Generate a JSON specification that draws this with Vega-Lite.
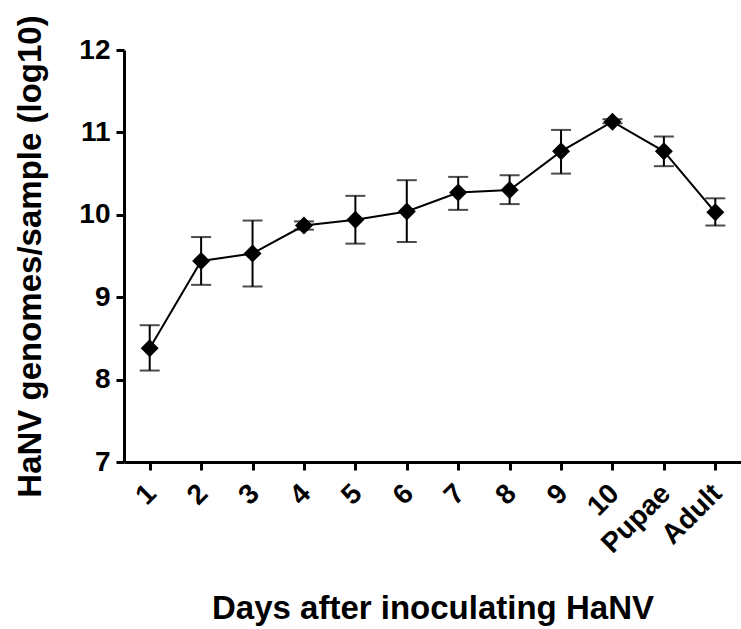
{
  "$schema": "https://vega.github.io/schema/vega-lite/v6.json",
  "autosize": {"type": "none"},
  "padding": {"left": 124, "top": 50, "right": 0, "bottom": 167},
  "width": 617,
  "height": 412,
  "background": "white",
  "config": {
    "view": {"stroke": null},
    "axis": {
      "domainColor": "black",
      "domainWidth": 3,
      "tickColor": "black",
      "tickWidth": 3,
      "tickSize": 8,
      "grid": false,
      "labelFont": "Liberation Sans",
      "labelFontWeight": "bold",
      "labelFontSize": 28,
      "labelColor": "black",
      "titleFont": "Liberation Sans",
      "titleFontWeight": "bold",
      "titleFontSize": 33,
      "titleColor": "black"
    }
  },
  "data": {
    "values": [
      {"stage": "1", "mean": 8.38, "lo": 8.11, "hi": 8.66},
      {"stage": "2", "mean": 9.44, "lo": 9.15, "hi": 9.73},
      {"stage": "3", "mean": 9.53, "lo": 9.13, "hi": 9.93},
      {"stage": "4", "mean": 9.87, "lo": 9.82, "hi": 9.92},
      {"stage": "5", "mean": 9.94, "lo": 9.65, "hi": 10.23},
      {"stage": "6", "mean": 10.04, "lo": 9.67, "hi": 10.42},
      {"stage": "7", "mean": 10.27, "lo": 10.06, "hi": 10.46},
      {"stage": "8", "mean": 10.30, "lo": 10.13, "hi": 10.48},
      {"stage": "9", "mean": 10.77, "lo": 10.50, "hi": 11.03},
      {"stage": "10", "mean": 11.13, "lo": 11.11, "hi": 11.16},
      {"stage": "Pupae", "mean": 10.77, "lo": 10.59, "hi": 10.95},
      {"stage": "Adult", "mean": 10.03, "lo": 9.87, "hi": 10.20}
    ]
  },
  "encoding": {
    "x": {
      "field": "stage",
      "type": "ordinal",
      "sort": null,
      "scale": {"type": "point", "padding": 0.5},
      "axis": {
        "title": "Days after inoculating HaNV",
        "labelAngle": -45,
        "labelAlign": "right",
        "labelBaseline": "middle",
        "labelPadding": 19,
        "labelOffset": 2,
        "titleY": 156,
        "titleBaseline": "alphabetic"
      }
    }
  },
  "layer": [
    {
      "mark": {"type": "rule", "color": "black", "strokeWidth": 2},
      "encoding": {
        "y": {"field": "lo", "type": "quantitative", "scale": {"domain": [7, 12]},
          "axis": {
            "title": "HaNV genomes/sample (log10)",
            "values": [7, 8, 9, 10, 11, 12],
            "format": "d",
            "labelPadding": 6,
            "titleX": -94,
            "titleY": 206,
            "titleAngle": -90,
            "titleAlign": "center",
            "titleBaseline": "middle"
          }},
        "y2": {"field": "hi"}
      }
    },
    {
      "mark": {"type": "tick", "color": "black", "thickness": 2, "size": 20},
      "encoding": {"y": {"field": "lo", "type": "quantitative"}}
    },
    {
      "mark": {"type": "tick", "color": "black", "thickness": 2, "size": 20},
      "encoding": {"y": {"field": "hi", "type": "quantitative"}}
    },
    {
      "mark": {"type": "line", "color": "black", "strokeWidth": 2},
      "encoding": {"y": {"field": "mean", "type": "quantitative"}}
    },
    {
      "mark": {"type": "point", "shape": "diamond", "filled": true, "color": "black", "opacity": 1, "size": 324},
      "encoding": {"y": {"field": "mean", "type": "quantitative"}}
    }
  ]
}
